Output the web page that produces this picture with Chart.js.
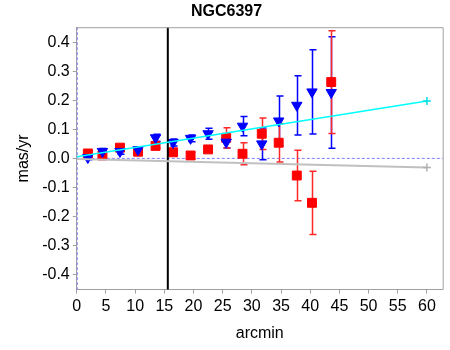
<!DOCTYPE html>
<html>
<head>
<meta charset="utf-8">
<script src="https://cdn.jsdelivr.net/npm/chart.js@4/dist/chart.umd.min.js"></script>
<style>
  body { margin: 0; background: #fff; }
  #wrap { width: 450px; height: 350px; }
</style>
</head>
<body>
<div id="wrap"><canvas id="chartPM" width="450" height="350"></canvas></div>
<script>
// radii of the bins (arcmin)
let radius = [1.9, 4.4, 7.4, 10.5, 13.5, 16.5, 19.5, 22.5, 25.6, 28.4, 31.7, 34.6, 37.7, 40.3, 43.6];
// blue triangles and their errors
let blueVal = [0.003, 0.024, 0.024, 0.03, 0.071, 0.055, 0.069, 0.085, 0.056, 0.111, 0.05, 0.129, 0.183, 0.229, 0.227];
let blueErr = [0.008, 0.01, 0.01, 0.01, 0.012, 0.012, 0.012, 0.019, 0.02, 0.033, 0.055, 0.086, 0.102, 0.145, 0.192];
// red squares and their errors
let redVal = [0.017, 0.01, 0.037, 0.023, 0.043, 0.021, 0.01, 0.031, 0.071, 0.016, 0.085, 0.054, -0.059, -0.153, 0.263];
let redErr = [0.008, 0.008, 0.008, 0.008, 0.008, 0.01, 0.012, 0.011, 0.035, 0.038, 0.054, 0.066, 0.087, 0.109, 0.177];
// model lines
let lineX = [0, 60];
let cyanY = [0.006, 0.198];
let greyY = [-0.002, -0.031];
let coreLine = 15.6;
let xTicks = [0, 5, 10, 15, 20, 25, 30, 35, 40, 45, 50, 55, 60];
let yTicks = [-0.4, -0.3, -0.2, -0.1, 0.0, 0.1, 0.2, 0.3, 0.4];

function pts(xs, ys) {
  return xs.map((x, i) => ({ x: x, y: ys[i] }));
}

// error bars + dotted zero lines, drawn with the chart scales
let errorBars = {
  id: 'errorBars',
  beforeDatasetsDraw(chart) {
    let ctx = chart.ctx;
    let xs = chart.scales.x, ys = chart.scales.y;
    let area = chart.chartArea;
    ctx.save();
    ctx.strokeStyle = '#7f7fff';
    ctx.lineWidth = 1;
    ctx.setLineDash([3, 2]);
    let y0 = ys.getPixelForValue(0);
    ctx.beginPath();
    ctx.moveTo(area.left, y0); ctx.lineTo(area.right, y0);
    let x0 = xs.getPixelForValue(0);
    ctx.moveTo(x0 + 0.5, area.top); ctx.lineTo(x0 + 0.5, area.bottom);
    ctx.stroke();
    ctx.setLineDash([]);

    function bars(vals, errs, color) {
      ctx.strokeStyle = color;
      ctx.lineWidth = 1.5;
      ctx.beginPath();
      radius.forEach((r, i) => {
        let px = Math.round(xs.getPixelForValue(r)) + 0.5;
        let top = ys.getPixelForValue(vals[i] + errs[i]);
        let bot = ys.getPixelForValue(vals[i] - errs[i]);
        ctx.moveTo(px, top); ctx.lineTo(px, bot);
        ctx.moveTo(px - 3, top); ctx.lineTo(px + 4, top);
        ctx.moveTo(px - 3, bot); ctx.lineTo(px + 4, bot);
      });
      ctx.stroke();
    }
    bars(blueVal, blueErr, '#0000ff');
    bars(redVal, redErr, '#ff2828');
    ctx.restore();
  }
};

let chartPM = new Chart(document.getElementById('chartPM').getContext('2d'), {
  type: 'scatter',
  data: {
    datasets: [
      {
        data: pts(lineX, greyY), showLine: true, borderColor: '#c0c0c0', borderWidth: 2,
        pointStyle: 'cross', pointRadius: [0, 4], pointBorderColor: '#b0b0b0', pointBorderWidth: 1.5
      },
      {
        data: pts(lineX, cyanY), showLine: true, borderColor: '#00ffff', borderWidth: 1.5,
        pointStyle: 'cross', pointRadius: [0, 4], pointBorderColor: '#00e0e0', pointBorderWidth: 1.5
      },
      {
        data: pts([coreLine, coreLine], [-0.46, 0.46]), showLine: true, borderColor: '#000000',
        borderWidth: 2, pointRadius: 0
      },
      {
        data: pts(radius, blueVal), pointStyle: 'triangle', rotation: 180, pointRadius: 6,
        backgroundColor: '#0000ff', borderColor: '#0000ff', borderWidth: 1
      },
      {
        data: pts(radius, redVal), pointStyle: 'rect', pointRadius: 6.3,
        backgroundColor: '#ff0000', borderColor: '#ff0000', borderWidth: 1
      }
    ]
  },
  options: {
    responsive: false,
    animation: false,
    layout: { padding: { left: 10, right: 7, top: 0, bottom: 3 } },
    plugins: {
      legend: { display: false },
      tooltip: { enabled: false },
      title: {
        display: true, text: 'NGC6397', color: '#000',
        font: { family: 'Liberation Sans, Arial', size: 16, weight: 'bold' },
        padding: { top: 2, bottom: 6 }
      }
    },
    scales: {
      x: {
        type: 'linear', min: 0, max: 62.7,
        afterBuildTicks: (s) => { s.ticks = xTicks.map(v => ({ value: v })); },
        grid: { drawOnChartArea: false, color: '#a0a0a0', tickLength: 4 },
        border: { color: '#a0a0a0', width: 1 },
        ticks: { color: '#000', font: { family: 'Liberation Sans, Arial', size: 16 }, padding: 3, maxRotation: 0 },
        title: { display: true, text: 'arcmin', color: '#000', font: { family: 'Liberation Sans, Arial', size: 16 }, padding: { top: 5 } }
      },
      y: {
        type: 'linear', min: -0.452, max: 0.452,
        afterBuildTicks: (s) => { s.ticks = yTicks.map(v => ({ value: v })); },
        grid: { drawOnChartArea: false, color: '#a0a0a0', tickLength: 4 },
        border: { color: '#a0a0a0', width: 1 },
        ticks: { color: '#000', font: { family: 'Liberation Sans, Arial', size: 16 }, padding: 3,
          callback: (v) => v.toFixed(1) },
        title: { display: true, text: 'mas/yr', color: '#000', font: { family: 'Liberation Sans, Arial', size: 16 }, padding: { bottom: 6 } }
      }
    }
  },
  plugins: [errorBars, {
    id: 'frame',
    afterDraw(chart) {
      let ctx = chart.ctx, a = chart.chartArea;
      ctx.save();
      ctx.strokeStyle = '#a0a0a0';
      ctx.lineWidth = 1;
      ctx.beginPath();
      ctx.moveTo(a.left, a.top + 0.5); ctx.lineTo(a.right + 0.5, a.top + 0.5); ctx.lineTo(a.right + 0.5, a.bottom);
      ctx.stroke();
      ctx.restore();
    }
  }]
});
</script>
</body>
</html>
